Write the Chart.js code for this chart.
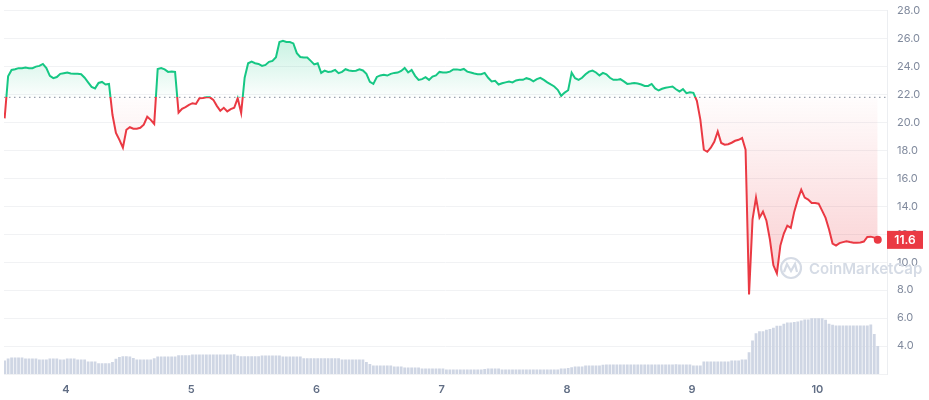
<!DOCTYPE html>
<html>
<head>
<meta charset="utf-8">
<title>Price chart</title>
<script src="https://cdn.jsdelivr.net/npm/chart.js@4.4.1/dist/chart.umd.min.js"></script>
<style>
  html, body { margin: 0; padding: 0; background: #fff; }
  #wrap { width: 929px; height: 400px; position: relative; }
</style>
</head>
<body>
<div id="wrap"><canvas id="chart"></canvas></div>
<script>
// one sample every 40 minutes, starting at day 3.51
var startDay = 3.51;
var stepDay = 1 / 36;
var openPrice = 21.8;
var dayTicks = [4, 5, 6, 7, 8, 9, 10];
var dayLabels = ['4', '5', '6', '7', '8', '9', '10'];

var prices = [
  20.3, 23.3, 23.76, 23.81, 23.89, 23.89, 23.93, 23.89, 23.89, 24.0,
  24.05, 24.19, 23.89, 23.34, 23.17, 23.25, 23.48, 23.53, 23.57, 23.5,
  23.48, 23.48, 23.45, 23.2, 22.87, 22.55, 22.44, 22.83, 22.9, 22.72,
  22.76, 20.55, 19.26, 18.76, 18.2, 19.48, 19.66, 19.55, 19.55, 19.62,
  19.84, 20.41, 20.19, 19.9, 23.83, 23.9, 23.8, 23.62, 23.64, 23.62,
  20.7, 20.98, 21.1, 21.26, 21.38, 21.33, 21.74, 21.76, 21.81, 21.8,
  21.62, 21.19, 20.84, 21.05, 20.79, 20.96, 21.05, 21.74, 20.69, 23.2,
  24.24, 24.36, 24.24, 24.19, 24.05, 24.12, 24.34, 24.41, 24.67, 25.76,
  25.84, 25.76, 25.76, 25.66, 24.96, 24.69, 24.65, 24.65, 24.41, 24.16,
  24.24, 23.55, 23.71, 23.62, 23.65, 23.76, 23.53, 23.62, 23.81, 23.72,
  23.69, 23.71, 23.8, 23.72, 23.48, 22.91, 22.76, 23.26, 23.37, 23.41,
  23.36, 23.48, 23.55, 23.57, 23.69, 23.9, 23.58, 23.76, 23.34, 23.05,
  23.1, 23.24, 23.05, 23.29, 23.37, 23.62, 23.57, 23.58, 23.64, 23.8,
  23.8, 23.76, 23.83, 23.64, 23.58, 23.51, 23.46, 23.45, 23.55, 23.2,
  22.94, 22.98, 22.72, 22.81, 22.87, 22.93, 22.87, 23.01, 23.05, 23.05,
  23.17, 23.1, 22.94, 23.1, 23.2, 23.05, 22.87, 22.72, 22.58, 22.34,
  21.91, 22.14, 22.31, 23.57, 23.17, 23.05, 23.2, 23.45, 23.64, 23.72,
  23.58, 23.37, 23.55, 23.45, 23.2, 23.05, 23.05, 23.1, 22.94, 22.76,
  22.79, 22.83, 22.79, 22.72, 22.62, 22.62, 22.76, 22.44, 22.29, 22.41,
  22.48, 22.53, 22.57, 22.38, 22.22, 22.39, 22.1, 22.16, 22.12, 21.55,
  20.2, 18.05, 17.9, 18.19, 18.62, 19.36, 18.53, 18.41, 18.44, 18.55,
  18.69, 18.76, 18.89, 18.05, 7.7, 13.05, 14.62, 13.19, 13.62, 12.97,
  11.62, 9.78, 9.2, 11.19, 12.05, 12.62, 12.46, 13.62, 14.48, 15.19,
  14.62, 14.48, 14.24, 14.23, 14.19, 13.69, 13.17, 12.34, 11.34, 11.19,
  11.37, 11.44, 11.5, 11.44, 11.39, 11.39, 11.41, 11.48, 11.81, 11.83,
  11.76, 11.6
];

// volume, millions
var volumes = [
  1.35, 1.55, 1.65, 1.65, 1.65, 1.65, 1.55, 1.55, 1.55, 1.55,
  1.45, 1.45, 1.45, 1.55, 1.55, 1.55, 1.45, 1.45, 1.55, 1.55,
  1.55, 1.45, 1.45, 1.45, 1.25, 1.25, 1.25, 1.08, 1.08, 1.08,
  1.08, 1.2, 1.52, 1.7, 1.78, 1.78, 1.75, 1.6, 1.45, 1.45,
  1.45, 1.45, 1.45, 1.58, 1.75, 1.75, 1.75, 1.75, 1.75, 1.75,
  1.88, 1.88, 1.88, 1.88, 1.95, 1.95, 1.95, 1.95, 1.95, 1.95,
  1.95, 1.95, 1.95, 1.95, 1.95, 1.95, 1.98, 1.82, 1.78, 1.78,
  1.78, 1.78, 1.78, 1.78, 1.85, 1.85, 1.85, 1.85, 1.85, 1.85,
  1.75, 1.75, 1.75, 1.75, 1.75, 1.75, 1.58, 1.58, 1.58, 1.58,
  1.58, 1.58, 1.58, 1.58, 1.58, 1.58, 1.58, 1.45, 1.45, 1.45,
  1.45, 1.45, 1.45, 1.45, 1.2, 1.0, 0.85, 0.85, 0.85, 0.85,
  0.85, 0.85, 0.75, 0.75, 0.75, 0.65, 0.65, 0.65, 0.65, 0.65,
  0.55, 0.55, 0.55, 0.55, 0.55, 0.55, 0.55, 0.45, 0.45, 0.45,
  0.45, 0.45, 0.45, 0.45, 0.45, 0.45, 0.45, 0.45, 0.5, 0.55,
  0.55, 0.55, 0.55, 0.45, 0.45, 0.45, 0.45, 0.45, 0.45, 0.45,
  0.45, 0.45, 0.45, 0.45, 0.45, 0.45, 0.45, 0.45, 0.45, 0.45,
  0.55, 0.55, 0.6, 0.68, 0.75, 0.75, 0.75, 0.85, 0.85, 0.85,
  0.85, 0.85, 0.92, 0.95, 0.95, 0.95, 0.95, 0.95, 0.95, 0.95,
  0.95, 0.95, 0.95, 0.95, 0.95, 0.95, 0.95, 0.95, 0.95, 0.95,
  0.95, 0.95, 0.95, 0.97, 0.95, 0.95, 0.95, 0.95, 0.85, 0.85,
  0.85, 1.25, 1.25, 1.25, 1.25, 1.25, 1.25, 1.25, 1.25, 1.35,
  1.35, 1.35, 1.45, 1.45, 2.18, 3.35, 4.08, 4.28, 4.28, 4.42,
  4.5, 4.62, 4.82, 4.82, 5.02, 5.15, 5.15, 5.2, 5.25, 5.35,
  5.45, 5.45, 5.58, 5.58, 5.58, 5.58, 5.42, 5.02, 4.92, 4.85,
  4.85, 4.85, 4.85, 4.85, 4.85, 4.85, 4.85, 4.85, 4.85, 4.95,
  4.0, 2.8
];

var GREEN = '#16c784';
var RED = '#ea3943';

var pricePts = prices.map(function (p, i) { return { x: startDay + i * stepDay, y: p }; });
var volPts = volumes.map(function (v, i) { return { x: startDay + i * stepDay, y: v }; });
var xMin = 3.505, xMax = 10.556;

function baseY(chart) { return chart.scales.y.getPixelForValue(openPrice); }

function lineColor(ctx) {
  var chart = ctx.chart, area = chart.chartArea;
  if (!area) return GREEN;
  var b = (baseY(chart) - area.top) / (area.bottom - area.top);
  b = Math.min(Math.max(b, 0), 1);
  var g = chart.ctx.createLinearGradient(0, area.top, 0, area.bottom);
  g.addColorStop(0, GREEN);
  g.addColorStop(b, GREEN);
  g.addColorStop(b, RED);
  g.addColorStop(1, RED);
  return g;
}

function lineFill(ctx) {
  var chart = ctx.chart, area = chart.chartArea;
  if (!area) return { value: openPrice };
  var by = baseY(chart);
  var top = chart.scales.y.getPixelForValue(26);
  var bot = chart.scales.y.getPixelForValue(8);
  var gg = chart.ctx.createLinearGradient(0, top, 0, by);
  gg.addColorStop(0, 'rgba(22,199,132,0.24)');
  gg.addColorStop(1, 'rgba(22,199,132,0.01)');
  var rg = chart.ctx.createLinearGradient(0, by, 0, bot);
  rg.addColorStop(0, 'rgba(234,57,67,0.01)');
  rg.addColorStop(1, 'rgba(234,57,67,0.26)');
  return { target: { value: openPrice }, above: gg, below: rg };
}

var extras = {
  id: 'extras',
  beforeDatasetsDraw: function (chart) {
    var c = chart.ctx;
    c.save();
    // watermark
    c.strokeStyle = '#d5dbe5';
    c.lineWidth = 2.2;
    c.beginPath();
    c.arc(791, 268, 10, 0, Math.PI * 2);
    c.stroke();
    c.beginPath();
    c.moveTo(784, 272);
    c.lineTo(787, 264);
    c.lineTo(791, 271);
    c.lineTo(795, 264);
    c.lineTo(797, 272);
    c.stroke();
    c.fillStyle = '#d5dbe5';
    c.font = '600 15px Inter, sans-serif';
    c.textBaseline = 'middle';
    c.fillText('CoinMarketCap', 809, 269);
    c.restore();
  },
  afterDraw: function (chart) {
    var c = chart.ctx, area = chart.chartArea;
    var last = prices[prices.length - 1];
    var y = chart.scales.y.getPixelForValue(last);
    c.save();
    c.fillStyle = RED;
    c.fillRect(area.right, y - 9, 36, 18);
    c.fillStyle = '#fff';
    c.font = '600 12px Inter, sans-serif';
    c.textAlign = 'center';
    c.textBaseline = 'middle';
    c.fillText(last.toFixed(1), area.right + 18, y + 0.5);
    c.restore();
  }
};

new Chart(document.getElementById('chart'), {
  data: {
    datasets: [
      {
        type: 'line',
        data: pricePts,
        yAxisID: 'y',
        borderColor: lineColor,
        fill: lineFill,
        borderWidth: 2,
        tension: 0,
        pointRadius: function (ctx) { return ctx.dataIndex === prices.length - 1 ? 4 : 0; },
        pointBackgroundColor: RED,
        pointBorderColor: RED,
        pointBorderWidth: 0,
        order: 0
      },
      {
        type: 'line',
        data: [{ x: xMin, y: openPrice }, { x: xMax, y: openPrice }],
        yAxisID: 'y',
        borderColor: '#9aa1ad',
        borderWidth: 1.3,
        borderDash: [1.5, 3.5],
        pointRadius: 0,
        fill: false,
        clip: false,
        order: 1
      },
      {
        type: 'bar',
        data: volPts,
        yAxisID: 'yv',
        backgroundColor: '#cfd6e4',
        barPercentage: 0.8,
        categoryPercentage: 1,
        order: 2
      }
    ]
  },
  options: {
    responsive: true,
    maintainAspectRatio: false,
    animation: false,
    layout: { padding: { top: 10.7, left: 0, right: 0, bottom: 0 } },
    plugins: { legend: { display: false }, tooltip: { enabled: false } },
    scales: {
      x: {
        type: 'linear',
        min: xMin,
        max: xMax,
        offset: false,
        grid: { display: false, offset: false },
        border: { display: false },
        ticks: {
          stepSize: 1,
          includeBounds: false,
          autoSkip: false,
          maxRotation: 0,
          padding: 1,
          color: '#616e85',
          font: { family: 'Inter', size: 11, weight: '600' },
          callback: function (v) {
            var k = dayTicks.indexOf(v);
            return k >= 0 ? dayLabels[k] : '';
          }
        },
        afterFit: function (s) { s.height = 26; }
      },
      y: {
        position: 'right',
        min: 2,
        max: 28,
        grid: { color: '#f1f2f4', drawTicks: true, tickLength: 10, tickColor: 'rgba(0,0,0,0)' },
        border: { display: true, color: '#eceef1' },
        ticks: {
          stepSize: 2,
          padding: 0,
          color: '#808a9d',
          font: { family: 'Inter', size: 11 },
          callback: function (v) { return v < 3 ? '' : v.toFixed(1); }
        },
        afterFit: function (s) { s.width = 42; }
      },
      yv: {
        display: false,
        min: 0,
        max: 36.3
      }
    }
  },
  plugins: [extras]
});
</script>
</body>
</html>
